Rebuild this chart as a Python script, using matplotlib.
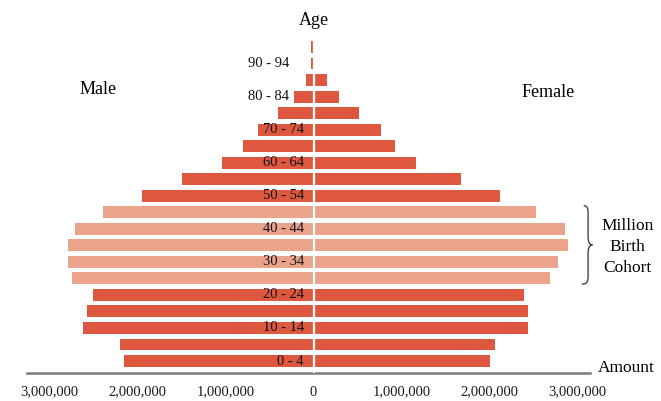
import numpy as np
import matplotlib
matplotlib.use("Agg")
import matplotlib.pyplot as plt
from matplotlib.path import Path
from matplotlib.patches import PathPatch
from matplotlib.ticker import FuncFormatter

plt.rcParams["font.family"] = ["Liberation Serif", "DejaVu Serif"]

age_groups = ["0 - 4", "5 - 9", "10 - 14", "15 - 19", "20 - 24", "25 - 29",
              "30 - 34", "35 - 39", "40 - 44", "45 - 49", "50 - 54", "55 - 59",
              "60 - 64", "65 - 69", "70 - 74", "75 - 79", "80 - 84", "85 - 89",
              "90 - 94", "95 - 99"]
male = [2150000, 2200000, 2615000, 2570000, 2500000, 2740000, 2785000,
        2785000, 2710000, 2395000, 1950000, 1500000, 1045000, 800000,
        635000, 405000, 220000, 85000, 30000, 30000]
female = [2000000, 2065000, 2435000, 2435000, 2390000, 2690000, 2780000,
          2890000, 2860000, 2530000, 2120000, 1675000, 1160000, 925000,
          765000, 520000, 295000, 150000, 20000, 8000]
cohort_groups = ["25 - 29", "30 - 34", "35 - 39", "40 - 44", "45 - 49"]
tick_values = [-3000000, -2000000, -1000000, 0, 1000000, 2000000, 3000000]

dark = "#DE5840"
light = "#EAA48C"

fig = plt.figure(figsize=(6.61, 4.01), dpi=100)
ax = fig.add_axes([0.0408, 0.0698, 0.8518, 0.855])

y = np.arange(len(age_groups))
colors = [light if g in cohort_groups else dark for g in age_groups]
ax.barh(y, [-m for m in male], height=0.72, color=colors, zorder=2)
ax.barh(y, female, height=0.72, color=colors, zorder=2)
ax.axvline(0, color="white", lw=1.6, zorder=3)

ax.set_xlim(-3256000, 3142000)
ax.set_ylim(-0.726, 20.02)

for s in ["top", "left", "right"]:
    ax.spines[s].set_visible(False)
ax.spines["bottom"].set_color("#7a7a7a")
ax.spines["bottom"].set_linewidth(1.8)
ax.set_yticks([])
ax.set_xticks(tick_values)
ax.xaxis.set_major_formatter(FuncFormatter(lambda v, p: f"{abs(int(v)):,}"))
ax.tick_params(axis="x", length=0, pad=9, labelsize=10.5, labelcolor="#1a1a1a")

# age labels on the male side, every other group
for i, g in enumerate(age_groups):
    if i % 2:
        continue
    xr = -280000 if g in ("80 - 84", "90 - 94") else -110000
    ax.text(xr, i, g, ha="right", va="center", fontsize=10.5,
            color="#111111", zorder=4)

ax.text(10000, 20.6, "Age", ha="center", va="center", fontsize=13,
        clip_on=False)
ax.text(-2450000, 16.4, "Male", ha="center", va="center", fontsize=13)
ax.text(2665000, 16.27, "Female", ha="center", va="center", fontsize=13)
ax.text(3570000, 6.9, "Million\nBirth\nCohort", ha="center", va="center",
        fontsize=12.5, linespacing=1.45, clip_on=False)
ax.text(3230000, -0.4, "Amount", ha="left", va="center", fontsize=12.5,
        clip_on=False)

# curly brace grouping the cohort rows
idx = [age_groups.index(g) for g in cohort_groups]
top = max(idx) + 0.4
bot = min(idx) - 0.35
mid = 0.5 * (top + bot)
x0 = 3070000
w = 100000
r = 0.5
verts = [
    (x0, top), (x0 + w * 0.5, top), (x0 + w * 0.5, top - r * 0.5), (x0 + w * 0.5, top - r),
    (x0 + w * 0.5, mid + r),
    (x0 + w * 0.5, mid + r * 0.3), (x0 + w * 0.7, mid), (x0 + w, mid),
    (x0 + w * 0.7, mid), (x0 + w * 0.5, mid - r * 0.3), (x0 + w * 0.5, mid - r),
    (x0 + w * 0.5, bot + r),
    (x0 + w * 0.5, bot + r * 0.5), (x0 + w * 0.5, bot), (x0 - w * 0.2, bot),
]
codes = [Path.MOVETO, Path.CURVE4, Path.CURVE4, Path.CURVE4,
         Path.LINETO,
         Path.CURVE4, Path.CURVE4, Path.CURVE4,
         Path.CURVE4, Path.CURVE4, Path.CURVE4,
         Path.LINETO,
         Path.CURVE4, Path.CURVE4, Path.CURVE4]
ax.add_patch(PathPatch(Path(verts, codes), fill=False, edgecolor="#444444",
                       lw=1.0, clip_on=False))

fig.savefig("out.png", dpi=100)
